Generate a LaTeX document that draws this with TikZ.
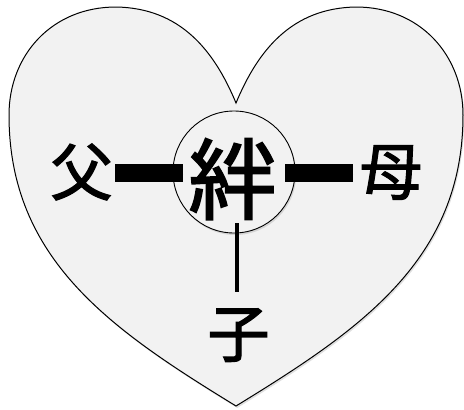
\documentclass[tikz,border=0pt]{standalone}
\usepackage{fontspec}
\newfontfamily\cjk{Noto Sans CJK JP}[FakeBold=2]
\usetikzlibrary{shadows}
\definecolor{heartfill}{RGB}{242,242,242}
\tikzset{
  shade1/.style={drop shadow={opacity=0.25,shadow xshift=1.2pt,shadow yshift=-2pt}},
  heartshape/.style={draw=black,line width=1pt,fill=heartfill,shade1},
  hub/.style={circle,draw=black,line width=0.9pt,fill=heartfill,minimum size=122pt,inner sep=0pt,shade1},
  word/.style={inner sep=0pt,font=\cjk\fontsize{62}{62}\selectfont,text height=54.6pt,text depth=7.4pt},
  bigword/.style={inner sep=0pt,font=\cjk\fontsize{88}{88}\selectfont,text height=77.4pt,text depth=10.6pt},
  bar/.style={line width=18pt,line cap=butt,black,shade1},
  stem/.style={line width=3.5pt,black}
}
\begin{document}
\begin{tikzpicture}[x=1pt,y=-1pt]
\useasboundingbox (0,0) rectangle (464,410);
% heart
\path[heartshape] (236,103)
  .. controls (258,50) and (292,8) .. (356,7)
  .. controls (420,7) and (463,55) .. (463,115)
  .. controls (463,260) and (360,330) .. (236,406)
  .. controls (112,330) and (9,260) .. (9,115)
  .. controls (9,55) and (52,7) .. (116,7)
  .. controls (180,8) and (214,50) .. (236,103) -- cycle;
% hub circle
\node[hub] (kz) at (234,172) {};
\node[bigword] (kzt) at (232.5,179) {絆};
% family members
\node[word] (fu) at (81.5,171.5) {父};
\node[word] (mo) at (391,171) {母};
\node[word] (ko) at (238.5,333) {子};
% connectors
\coordinate (kzw) at ([xshift=10pt]kz.west);
\coordinate (kze) at ([xshift=-10pt]kz.east);
\coordinate (kzs) at (237,223);
\coordinate (fue) at (115,172.5);
\coordinate (mow) at (353,172.5);
\coordinate (kon) at (237,292);
\draw[bar] (fue) -- (kzw |- fue);
\draw[bar] (kze |- mow) -- (mow);
\draw[stem] (kzs) -- (kon);
\end{tikzpicture}
\end{document}
